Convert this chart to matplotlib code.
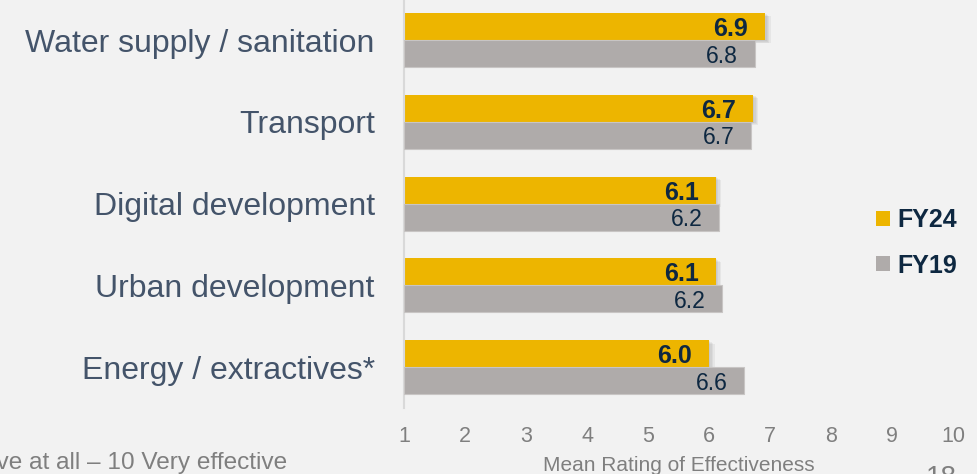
import matplotlib
matplotlib.use("Agg")
import matplotlib.pyplot as plt
import matplotlib.patheffects as pe
from matplotlib.patches import Patch
import numpy as np

categories = ["Energy / extractives*", "Urban development", "Digital development",
              "Transport", "Water supply / sanitation"]
fy24 = [6.00, 6.11, 6.11, 6.72, 6.92]
fy19 = [6.58, 6.22, 6.17, 6.69, 6.75]
series_names = ["FY24", "FY19"]
xticks = [1, 2, 3, 4, 5, 6, 7, 8, 9, 10]

W, H = 978, 474
BG = "#F2F2F2"
GOLD = "#EDB500"
GRAY = "#AFABAA"
NAVY = "#0E2841"
LABEL = "#44546A"
TICK = "#7F7F7F"

plt.rcParams['font.family'] = ['Liberation Sans', 'DejaVu Sans']

fig = plt.figure(figsize=(W / 100, H / 100), dpi=100, facecolor=BG)
ax = fig.add_axes([404 / W, 1 - 408 / H, (953 - 404) / W, 408 / H])
ax.set_facecolor(BG)

y = np.arange(len(categories))
bh = 0.33

shadow = [pe.SimplePatchShadow(offset=(o, -o * 0.6), shadow_rgbFace="#808080", alpha=0.10)
          for o in (1.0, 2.0, 3.0, 4.0)]
b24 = ax.barh(y + bh / 2, [v - 1 for v in fy24], left=1, height=bh, color=GOLD,
              zorder=2, label=series_names[0])
for p in b24:
    p.set_path_effects(shadow + [pe.Normal()])
b19 = ax.barh(y - bh / 2, [v - 1 for v in fy19], left=1, height=bh, color=GRAY,
              edgecolor="#C8C5C4", linewidth=0.8, zorder=3, label=series_names[1])

for yi, v in zip(y, fy24):
    ax.annotate(f"{v:.1f}", xy=(v, yi + bh / 2), xytext=(-12.2, 0), textcoords="offset points",
                ha="right", va="center_baseline", fontsize=18, fontweight="bold", color=NAVY, zorder=5)
for yi, v in zip(y, fy19):
    ax.annotate(f"{v:.1f}", xy=(v, yi - bh / 2), xytext=(-12.2, 0), textcoords="offset points",
                ha="right", va="center_baseline", fontsize=16.5, color=NAVY, zorder=5)

ax.set_xlim(1, 10)
ax.set_ylim(-0.4976, 4.489)
ax.set_xticks(xticks)
ax.set_xticklabels([str(t) for t in xticks], fontsize=15.5, color=TICK)
ax.set_yticks(y)
ax.set_yticklabels(categories, fontsize=23, color=LABEL)
ax.tick_params(axis="x", length=0, pad=13)
ax.tick_params(axis="y", length=0, pad=21)
for s in ("top", "right", "bottom"):
    ax.spines[s].set_visible(False)
ax.spines["left"].set_color("#D9D9D9")
ax.spines["left"].set_linewidth(1.5)

handles = [Patch(facecolor=GOLD, label=series_names[0]),
           Patch(facecolor=GRAY, label=series_names[1])]
leg = fig.legend(handles=handles, loc="center left",
                 bbox_to_anchor=(876 / W, 1 - 243 / H), frameon=False,
                 prop={"size": 18, "weight": "bold"}, handlelength=0.55, handleheight=0.55,
                 handletextpad=0.3, labelspacing=0.85, borderpad=0, borderaxespad=0)
for t in leg.get_texts():
    t.set_color(NAVY)

fig.text(679 / W, 1 - 471 / H, "Mean Rating of Effectiveness", ha="center", va="baseline",
         fontsize=15, color=TICK)
fig.text(287 / W, 1 - 469 / H, "1 Not effective at all \u2013 10 Very effective", ha="right",
         va="baseline", fontsize=17.6, color=TICK)
fig.text(926 / W, 1 - 465 / H, "18", ha="left", va="top", fontsize=20, color=TICK)

fig.savefig("out.png", dpi=100, facecolor=BG)
